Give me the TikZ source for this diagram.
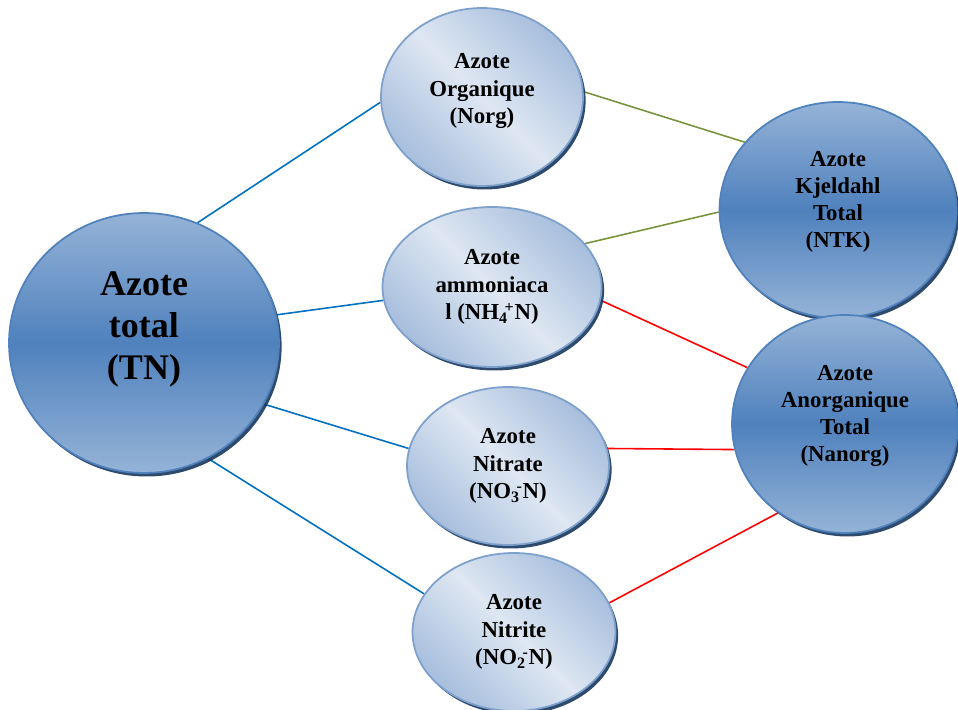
\documentclass[tikz,border=0pt]{standalone}
\usepackage{fontspec}
\setmainfont{Liberation Serif}
\usetikzlibrary{shapes.geometric,shadows,backgrounds}
\definecolor{discLight}{RGB}{149,179,215}
\definecolor{discDark}{RGB}{79,129,189}
\definecolor{ovalLight}{RGB}{222,231,242}
\definecolor{ovalDark}{RGB}{167,190,221}
\definecolor{ovalEdge}{RGB}{125,160,205}
\definecolor{shadowNavy}{RGB}{23,55,94}
\definecolor{lineBlue}{RGB}{0,112,192}
\definecolor{lineGreen}{RGB}{119,147,60}
\definecolor{lineRed}{RGB}{255,0,0}
\tikzset{
  bigDisc/.style={ ellipse, draw=discDark, line width=1pt, top color=discLight, bottom color=discLight, middle color=discDark, inner sep=0pt, align=center, font=\fontsize{13}{15.5}\selectfont\bfseries, drop shadow={shadow xshift=1.5pt, shadow yshift=-2pt, fill=shadowNavy, opacity=0.9} }
}
\tikzset{
  smallOval/.style={ ellipse, draw=ovalEdge, line width=1pt, top color=ovalDark, bottom color=ovalDark, middle color=ovalLight, shading angle=-45, inner sep=0pt, align=center, font=\fontsize{13}{15.8}\selectfont\bfseries, drop shadow={shadow xshift=1.5pt, shadow yshift=-2pt, fill=shadowNavy, opacity=0.9} }
}
\tikzset{
  blueLink/.style={ draw=lineBlue, line width=0.9pt }
}
\tikzset{
  greenLink/.style={ draw=lineGreen, line width=0.9pt }
}
\tikzset{
  redLink/.style={ draw=lineRed, line width=0.9pt }
}
\newcommand{\ionsub}[2]{\textsubscript{#1}\kern-0.15em\textsuperscript{#2}}
\begin{document}
\begin{tikzpicture}[x=0.02cm, y=-0.02cm]
      \useasboundingbox (0,0) rectangle (958,710);

      \node[bigDisc, minimum width=5.4cm, minimum height=5.2cm, text depth=0.7cm, font=\fontsize{20.5}{24}\selectfont\bfseries] (tn) at (144, 343) {Azote\\total\\(TN)};

      \node[smallOval, minimum width=4.04cm, minimum height=3.56cm, text depth=0.34cm] (norg) at (482, 97) {Azote\\Organique\\(Norg)};
      \node[smallOval, minimum width=4.38cm, minimum height=3.2cm] (nh4) at (492, 287) {Azote\\ammoniaca\\l (NH\ionsub{4}{+}N)};
      \node[smallOval, minimum width=4.04cm, minimum height=3.16cm] (no3) at (508, 466) {Azote\\Nitrate\\(NO\ionsub{3}{-}N)};
      \node[smallOval, minimum width=4.06cm, minimum height=3.16cm] (no2) at (514, 632) {Azote\\Nitrite\\(NO\ionsub{2}{-}N)};

      \node[bigDisc, minimum width=4.74cm, minimum height=4.32cm, text depth=0.42cm] (ntk) at (838, 210) {Azote\\Kjeldahl\\Total\\(NTK)};
      \node[bigDisc, minimum width=4.52cm, minimum height=4.36cm, text depth=0.42cm] (ninorg) at (845, 424) {Azote\\Anorganique\\Total\\(Nanorg)};

      \begin{scope}[on background layer]
        \draw[blueLink] (tn.66) -- (norg.183);
        \draw[blueLink] (tn.12) -- (nh4.187);
        \draw[blueLink] (tn.333) -- (no3.170);
        \draw[blueLink] (tn.299) -- (no2.157);

        \draw[greenLink] (norg.3) -- (ntk.144);
        \draw[greenLink] (nh4.25) -- (ntk.181);

        \draw[redLink] (nh4.353) -- (ninorg.150);
        \draw[redLink] (no3.10) -- (ninorg.193);
        \draw[redLink] (no2.17) -- (ninorg.233);
      \end{scope}

    \end{tikzpicture}
\end{document}
